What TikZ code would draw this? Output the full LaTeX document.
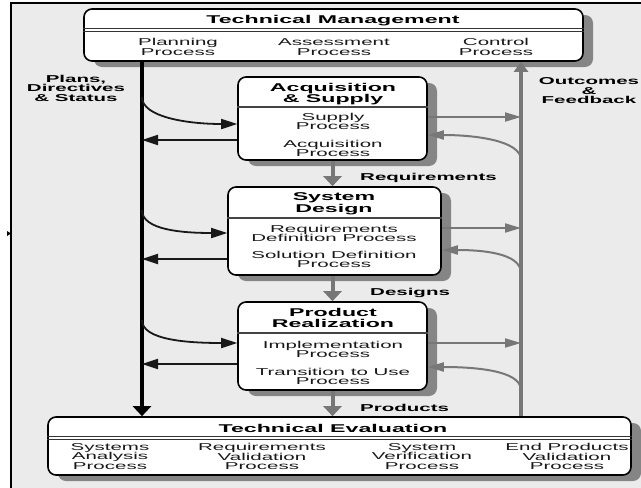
\documentclass[tikz,border=0pt]{standalone}
\usepackage{fontspec}
\setmainfont{Liberation Sans}[FakeStretch=2.05]
\usetikzlibrary{arrows.meta}
\definecolor{bg}{HTML}{EBEBEB}
\definecolor{arrgray}{HTML}{777777}
\definecolor{shgray}{HTML}{858585}
\definecolor{sepgray}{HTML}{444444}
\begin{document}
\begin{tikzpicture}[x=1pt,y=-1pt,
  pbox/.style={draw=black, line width=1.6pt, fill=white, rounded corners=8pt, inner sep=0pt},
  shadowbox/.style={fill=shgray, rounded corners=8pt},
  ttl/.style={font=\fontsize{11.3}{10.5}\selectfont\bfseries, align=center, inner sep=0pt},
  proc/.style={font=\fontsize{10}{9.5}\selectfont, align=center, inner sep=0pt, text=black!90},
  lab/.style={font=\fontsize{10}{9.5}\selectfont\bfseries, align=center, inner sep=0pt},
  sepline/.style={draw=sepgray, line width=2pt},
  dblsep/.style={draw=black!80, line width=0.9pt},
  blkline/.style={draw=black, line width=4pt, -{Triangle[length=10pt,width=18pt]}},
  grline/.style={draw=arrgray, line width=3.5pt, -{Triangle[length=10pt,width=14pt]}},
  blkarr/.style={draw=black!90, line width=1.8pt, -{Triangle[length=16pt,width=10pt]}},
  grarr/.style={draw=arrgray, line width=2pt, -{Triangle[length=16pt,width=9pt]}},
  grdown/.style={draw=arrgray, line width=4pt, -{Triangle[length=10pt,width=18pt]}}
]
\useasboundingbox (0,0) rectangle (641,488);
% frame
\draw[fill=bg, line width=1.5pt] (11,3) rectangle (660,500);
\fill (7,231) -- (11,233.5) -- (7,236) -- cycle;

% shadows
\fill[shadowbox] (94,15) rectangle (593,67);
\fill[shadowbox] (248,83) rectangle (437,166);
\fill[shadowbox] (238,193) rectangle (451,281);
\fill[shadowbox] (248,308) rectangle (437,396);
\fill[shadowbox] (58,423) rectangle (641,481);

% boxes
\node[pbox, minimum width=499pt, minimum height=52pt] (tm) at (333.5,35) {};
\node[pbox, minimum width=189pt, minimum height=83pt] (as) at (332.5,118.5) {};
\node[pbox, minimum width=213pt, minimum height=88pt] (sd) at (334.5,231) {};
\node[pbox, minimum width=189pt, minimum height=88pt] (pr) at (332.5,346) {};
\node[pbox, minimum width=583pt, minimum height=58pt] (te) at (339.5,446) {};

% separators
\draw[dblsep] (tm.west |- 0,28.5) -- (tm.east |- 0,28.5);
\draw[dblsep] (tm.west |- 0,31.5) -- (tm.east |- 0,31.5);
\draw[dblsep] (te.west |- 0,436.5) -- (te.east |- 0,436.5);
\draw[dblsep] (te.west |- 0,439.5) -- (te.east |- 0,439.5);
\draw[sepline] (as.west |- 0,107) -- (as.east |- 0,107);
\draw[sepline] (sd.west |- 0,218) -- (sd.east |- 0,218);
\draw[sepline] (pr.west |- 0,333) -- (pr.east |- 0,333);

% texts
\node[ttl] (tmt) at (333,21) {Technical Management};
\node[proc] (tmp1) at (178,47) {Planning\\Process};
\node[proc] (tmp2) at (334,47) {Assessment\\Process};
\node[proc] (tmp3) at (496,47) {Control\\Process};

\node[ttl] (ast) at (333,94) {Acquisition\\\& Supply};
\node[proc] (asp1) at (333,121.5) {Supply\\Process};
\node[proc] (asp2) at (333,148.5) {Acquisition\\Process};

\node[ttl] (sdt) at (334,203.5) {System\\Design};
\node[proc] (sdp1) at (334,233.5) {Requirements\\Definition Process};
\node[proc] (sdp2) at (334,259.5) {Solution Definition\\Process};

\node[ttl] (prt) at (333,318) {Product\\Realization};
\node[proc] (prp1) at (333,349.5) {Implementation\\Process};
\node[proc] (prp2) at (333,376.5) {Transition to Use\\Process};

\node[ttl] (tet) at (333,428) {Technical Evaluation};
\node[proc] (te1) at (110,456.5) {Systems\\Analysis\\Process};
\node[proc] (te2) at (262,456.5) {Requirements\\Validation\\Process};
\node[proc] (te3) at (422,456.5) {System\\Verification\\Process};
\node[proc] (te4) at (567,456.5) {End Products\\Validation\\Process};

\node[lab] (lplans) at (76,88) {Plans,\\Directives\\\& Status};
\node[lab] (lout) at (589,91) {Outcomes\\\&\\Feedback};
\node[lab, anchor=west] (lreq) at (360,178) {Requirements};
\node[lab, anchor=west] (ldes) at (370,293) {Designs};
\node[lab, anchor=west] (lprod) at (360,408) {Products};

% main verticals
\coordinate (bx) at (142,0);
\coordinate (gx) at (521,0);
\draw[blkline] (tm.south -| bx) -- (te.north -| bx);
\draw[grline] (te.north -| gx) -- (tm.south -| gx);

% flow down
\draw[grdown] (as.south) -- (as.south |- sd.north);
\draw[grdown] (sd.south -| as.south) -- (pr.north);
\draw[grdown] (pr.south) -- (pr.south |- te.north);

% left side curves and returns
\coordinate (c1) at (142,97);
\coordinate (c2) at (142,210);
\coordinate (c3) at (142,320);
\draw[blkarr] (c1) .. controls +(0,20) and +(-50,0) .. (as.west |- 0,124);
\draw[blkarr] (c2) .. controls +(0,20) and +(-45,0) .. (sd.west |- 0,233);
\draw[blkarr] (c3) .. controls +(0,20) and +(-50,0) .. (pr.west |- 0,343);
\draw[blkarr] (as.west |- 0,140) -- (bx |- 0,140);
\draw[blkarr] (sd.west |- 0,259) -- (bx |- 0,259);
\draw[blkarr] (pr.west |- 0,364) -- (bx |- 0,364);

% right side outcomes and feedback
\coordinate (f1) at (521,160);
\coordinate (f2) at (521,273);
\coordinate (f3) at (521,390);
\draw[grarr] (as.east |- 0,117) -- (gx |- 0,117);
\draw[grarr] (sd.east |- 0,228) -- (gx |- 0,228);
\draw[grarr] (pr.east |- 0,343) -- (gx |- 0,343);
\draw[grarr] (f1) .. controls +(0,-20) and +(45,0) .. (as.east |- 0,135);
\draw[grarr] (f2) .. controls +(0,-20) and +(40,0) .. (sd.east |- 0,250);
\draw[grarr] (f3) .. controls +(0,-20) and +(45,0) .. (pr.east |- 0,367);
\end{tikzpicture}
\end{document}
